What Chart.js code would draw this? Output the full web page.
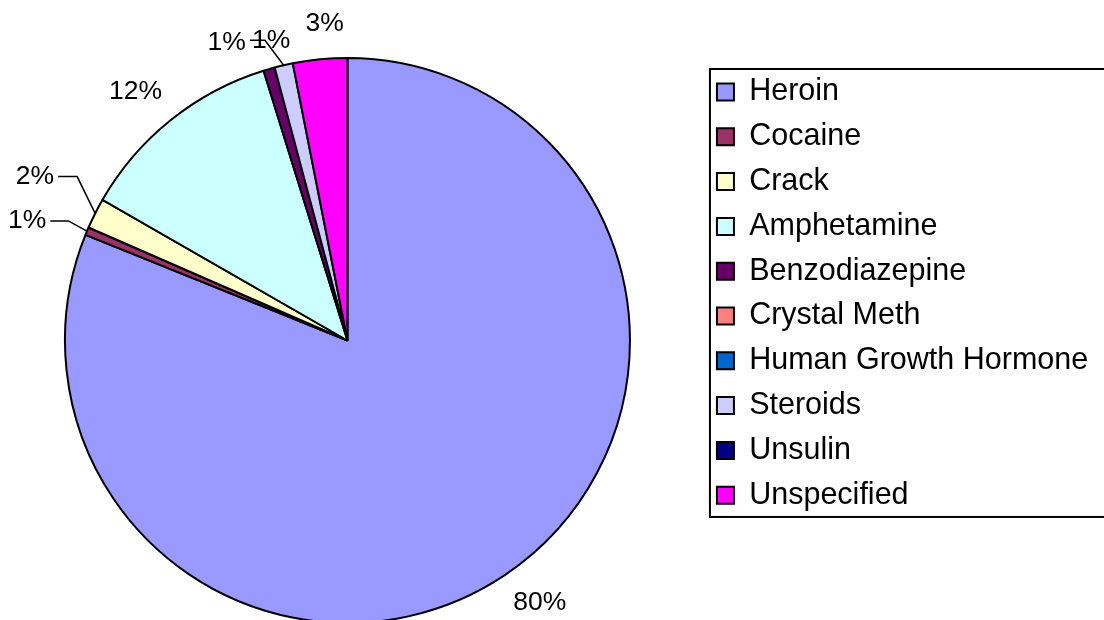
<!DOCTYPE html>
<html>
<head>
<meta charset="utf-8">
<script src="https://cdn.jsdelivr.net/npm/chart.js@4"></script>
<style>
html,body{margin:0;padding:0;background:#fff;}
#wrap{width:1104px;height:620px;position:relative;}
</style>
</head>
<body>
<div id="wrap"><canvas id="c"></canvas></div>
<script>
const categories = ['Heroin','Cocaine','Crack','Amphetamine','Benzodiazepine','Crystal Meth','Human Growth Hormone','Steroids','Unsulin','Unspecified'];
const shares = [81.1, 0.45, 1.75, 11.9, 0.65, 0, 0, 1.05, 0, 3.1];
const percentLabels = ['80%','1%','2%','12%','1%','','','1%','','3%'];
const sliceColors = ['#9999FF','#993366','#FFFFCC','#CCFFFF','#660066','#FF8080','#0066CC','#CCCCFF','#000080','#FF00FF'];

const FONT = '"Liberation Sans", Arial, Helvetica, sans-serif';

// widen the chart area to the left so the pie centre sits where the reference has it
const pieCenter = {
  id: 'pieCenter',
  afterLayout(chart, args, opts) {
    const a = chart.chartArea;
    a.left -= opts.extendLeft;
    a.width = a.right - a.left;
  }
};

// Excel-style outside-end percentage labels with leader lines
const sliceLabels = {
  id: 'sliceLabels',
  afterDatasetsDraw(chart, args, opts) {
    const ctx = chart.ctx;
    const meta = chart.getDatasetMeta(0);
    ctx.save();
    ctx.font = opts.size + 'px ' + FONT;
    ctx.fillStyle = '#000';
    ctx.strokeStyle = '#000';
    ctx.lineWidth = opts.lineWidth;
    ctx.textAlign = 'center';
    ctx.textBaseline = 'middle';
    meta.data.forEach((arc, i) => {
      const text = opts.texts[i];
      if (!text) return;
      const p = arc.getProps(['x','y','startAngle','endAngle','outerRadius'], true);
      const mid = (p.startAngle + p.endAngle) / 2;
      const dx = Math.cos(mid), dy = Math.sin(mid);
      const w = ctx.measureText(text).width;
      const h = opts.size * 0.77;
      const R = p.outerRadius + opts.gap;
      const s = opts.shifts[i] || [0, 0];
      const cx = p.x + dx * R + dx * w / 2 + s[0];
      const cy = p.y + dy * R + dy * h / 2 + s[1];
      ctx.fillText(text, cx, cy);
      const L = opts.leaders[i];
      if (L) {
        const sx = L.from === 'left' ? cx - w / 2 - 2 : cx + w / 2 + 4;
        const ex = p.x + dx * p.outerRadius;
        const ey = p.y + dy * p.outerRadius;
        ctx.beginPath();
        ctx.moveTo(sx, cy);
        ctx.lineTo(sx + L.run, cy);
        ctx.lineTo(ex, ey);
        ctx.stroke();
      }
    });
    ctx.restore();
  }
};

// frame around the legend (runs off the right edge like the reference)
const legendFrame = {
  id: 'legendFrame',
  afterDraw(chart, args, opts) {
    const boxes = chart.legend && chart.legend.legendHitBoxes;
    if (!boxes || !boxes.length) return;
    const first = boxes[0], last = boxes[boxes.length - 1];
    const ctx = chart.ctx;
    const l = first.left - opts.padLeft;
    const t = first.top - opts.padTop;
    const b = last.top + last.height + opts.padBottom;
    ctx.save();
    ctx.lineWidth = opts.lineWidth;
    ctx.strokeStyle = '#000';
    ctx.strokeRect(l, t, chart.width + 20 - l, b - t);
    ctx.restore();
  }
};

new Chart(document.getElementById('c'), {
  type: 'pie',
  data: {
    labels: categories,
    datasets: [{
      data: shares,
      backgroundColor: sliceColors,
      borderColor: '#000',
      borderWidth: 2
    }]
  },
  options: {
    responsive: true,
    maintainAspectRatio: false,
    animation: false,
    events: [],
    radius: 282.5,
    layout: { padding: { left: 0, right: 5.8, top: 62.45, bottom: 1.45 } },
    plugins: {
      tooltip: { enabled: false },
      legend: {
        position: 'right',
        align: 'start',
        labels: {
          font: { family: FONT, size: 30.5 },
          color: '#000',
          boxWidth: 17,
          boxHeight: 17,
          padding: 14.3
        }
      },
      pieCenter: { extendLeft: 7.7 },
      sliceLabels: {
        texts: percentLabels,
        size: 26.5,
        gap: 24,
        lineWidth: 1.5,
        shifts: [[6, 0], [-20, 3], [-21.6, -21.5], [-3.8, -1.5], [-30.5, 6.9], null, null, [-2.8, 8.3], null, [8.9, -1.2]],
        leaders: [null, {from: 'right', run: 18}, {from: 'right', run: 19}, null, null, null, null, {from: 'left', run: 15}, null, null]
      },
      legendFrame: { lineWidth: 2, padLeft: 7, padTop: 7.75, padBottom: 6.5 }
    }
  },
  plugins: [pieCenter, sliceLabels, legendFrame]
});
</script>
</body>
</html>
